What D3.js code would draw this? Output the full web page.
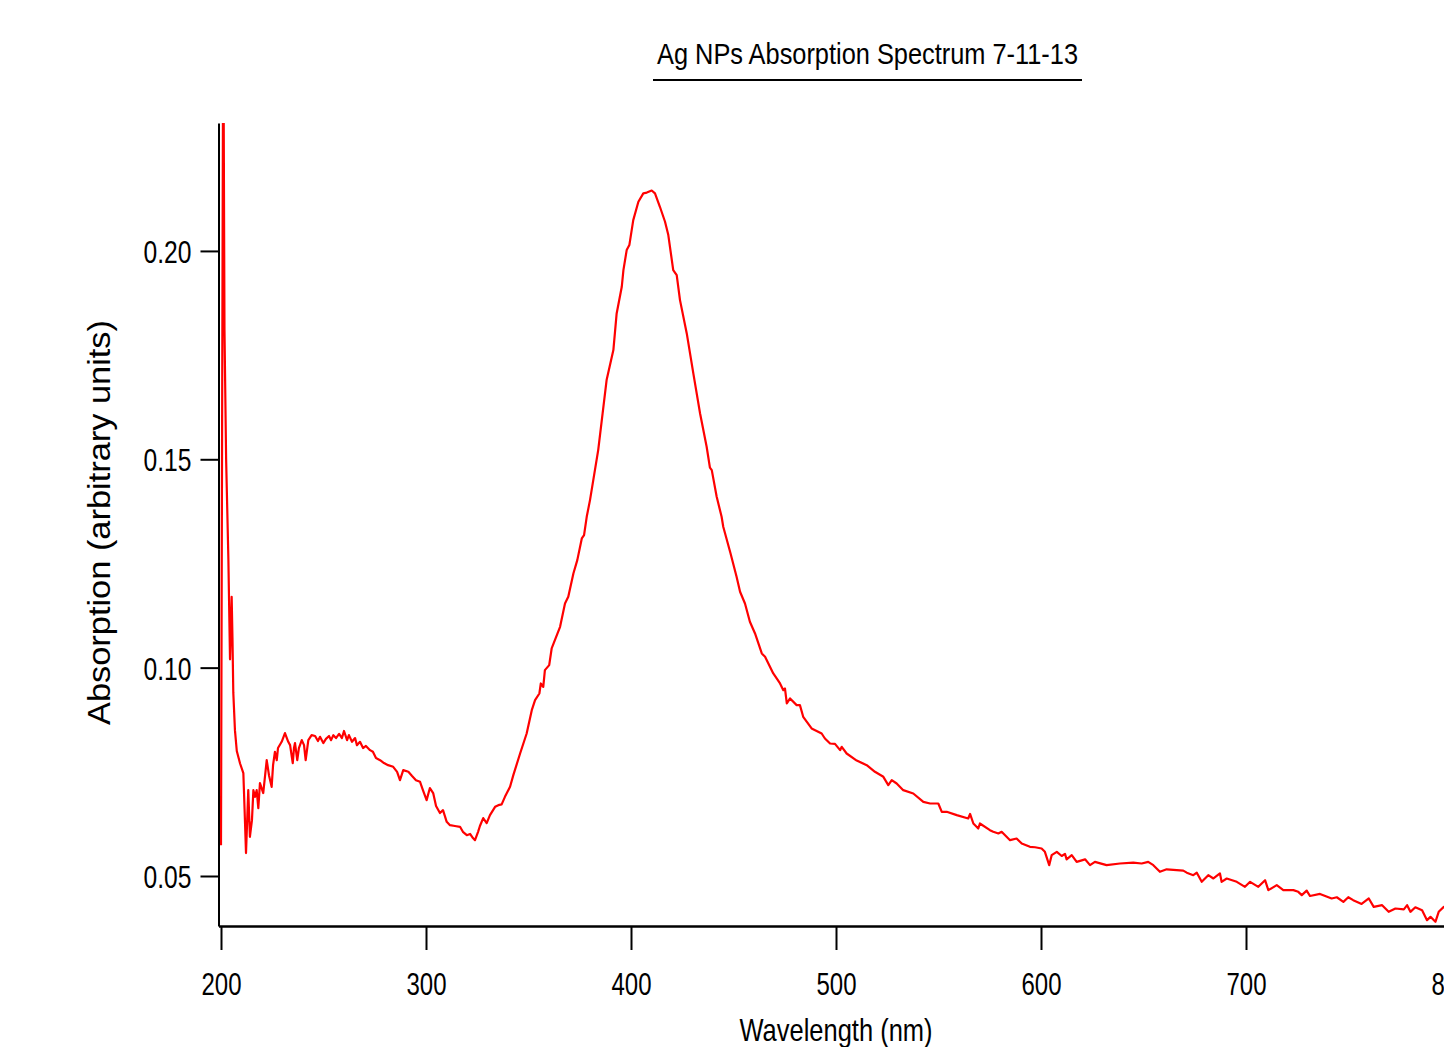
<!DOCTYPE html>
<html>
<head>
<meta charset="utf-8">
<script src="https://cdn.jsdelivr.net/npm/d3@7"></script>
<style>
  html, body { margin: 0; padding: 0; background: #fff; }
  svg { display: block; }
  text { font-family: "Liberation Sans", Arial, sans-serif; fill: #000; }
</style>
</head>
<body>
<div class="spectrum"></div>
<script>
// wavelength (nm) and absorption
const wavelength = [
  200.0, 201.1, 201.7, 202.5, 203.6, 204.4, 205.2, 205.6, 206.0, 206.8, 207.7, 209.3, 210.9, 211.5, 212.2,
  213.3, 214.1, 215.1, 215.8, 216.6, 217.4, 218.2, 219.0, 220.6, 222.3, 223.4, 224.7, 225.4, 226.3, 227.2,
  227.8, 229.6, 231.2, 232.8, 233.7, 235.0, 235.6, 236.1, 237.2, 238.0, 239.4, 240.5, 241.3, 242.6, 244.2,
  245.9, 247.3, 248.3, 249.9, 251.2, 252.7, 253.7, 254.8, 256.1, 257.6, 259.0, 260.0, 261.5, 262.4, 263.9,
  265.4, 266.3, 267.8, 269.3, 270.7, 272.7, 274.1, 275.6, 277.6, 279.5, 281.5, 284.0, 285.9, 287.3, 288.9,
  291.4, 293.2, 295.1, 297.1, 298.5, 300.3, 301.9, 303.5, 304.9, 306.8, 308.3, 310.1, 311.7, 314.1, 316.6,
  318.0, 319.9, 321.5, 322.9, 323.9, 325.4, 326.3, 327.9, 329.6, 331.2, 333.7, 335.3, 336.9, 338.5, 341.0,
  342.6, 345.9, 349.1, 351.6, 353.2, 355.3, 356.0, 357.2, 358.0, 360.1, 361.3, 365.4, 367.8, 369.4, 371.9,
  373.8, 376.0, 377.1, 378.4, 380.0, 384.0, 388.1, 391.4, 393.0, 395.5, 396.3, 397.9, 399.2, 401.1, 403.6,
  406.0, 407.7, 410.1, 411.7, 414.1, 416.6, 418.2, 420.6, 422.3, 423.9, 427.2, 430.4, 433.7, 436.9, 438.5,
  439.4, 441.8, 444.2, 445.0, 448.5, 451.5, 453.2, 455.6, 458.0, 460.5, 463.8, 465.4, 469.4, 472.7, 474.3,
  475.1, 476.0, 477.6, 480.8, 482.4, 484.0, 488.1, 489.8, 493.0, 494.6, 497.1, 499.5, 502.0, 502.8, 505.2,
  510.1, 515.0, 519.0, 523.1, 525.5, 527.2, 529.6, 532.8, 537.7, 542.6, 545.9, 549.9, 551.6, 554.0, 558.9,
  564.5, 565.4, 567.0, 569.4, 570.2, 575.1, 576.7, 579.2, 580.8, 584.9, 588.1, 590.6, 594.6, 597.1, 600.3,
  601.9, 604.0, 605.2, 607.7, 610.1, 611.7, 612.5, 615.0, 617.4, 621.5, 623.9, 626.3, 632.0, 638.5, 645.0,
  649.1, 652.3, 654.8, 658.0, 661.3, 666.2, 669.4, 671.1, 674.3, 676.0, 678.4, 681.6, 684.1, 687.3, 688.1,
  690.6, 695.5, 699.5, 702.0, 706.0, 709.3, 710.9, 715.0, 718.2, 723.1, 725.5, 727.2, 729.6, 731.2, 736.1,
  741.8, 744.3, 747.5, 749.9, 752.3, 756.4, 759.9, 762.3, 766.4, 769.6, 772.9, 777.0, 778.6, 780.2, 782.6,
  785.9, 788.3, 790.0, 792.4, 794.0, 796.5, 799.0
];
const absorption = [
  0.0574, 0.262, 0.181, 0.150, 0.126, 0.102, 0.117, 0.107, 0.094, 0.085, 0.080, 0.077, 0.0747, 0.066, 0.0555,
  0.0706, 0.0594, 0.0634, 0.0706, 0.0690, 0.0706, 0.0663, 0.0723, 0.0699, 0.0778, 0.0742, 0.0714, 0.0766, 0.0798, 0.0778,
  0.0807, 0.0822, 0.0843, 0.0822, 0.0814, 0.0771, 0.0807, 0.0819, 0.0778, 0.0807, 0.0826, 0.0814, 0.0778, 0.0826, 0.0838,
  0.0836, 0.0824, 0.0834, 0.0819, 0.0829, 0.0836, 0.0826, 0.0838, 0.0831, 0.0841, 0.0831, 0.0848, 0.0826, 0.0838, 0.0822,
  0.0831, 0.0814, 0.0822, 0.0807, 0.0812, 0.0802, 0.0798, 0.0783, 0.0778, 0.0771, 0.0766, 0.0762, 0.0750, 0.0730, 0.0754,
  0.0750, 0.0740, 0.0730, 0.0726, 0.0706, 0.0682, 0.0711, 0.0699, 0.0668, 0.0651, 0.0658, 0.0630, 0.0622, 0.0620, 0.0618,
  0.0606, 0.0598, 0.0601, 0.0591, 0.0586, 0.0606, 0.0620, 0.0639, 0.0627, 0.0646, 0.0666, 0.0670, 0.0672, 0.0690, 0.0714,
  0.0742, 0.0794, 0.0842, 0.0898, 0.0922, 0.0938, 0.0962, 0.0954, 0.0994, 0.1006, 0.1046, 0.1098, 0.1154, 0.1170, 0.1226,
  0.1258, 0.1310, 0.1318, 0.1362, 0.1402, 0.1522, 0.1690, 0.1762, 0.1850, 0.1914, 0.1954, 0.2002, 0.2014, 0.2074, 0.2118,
  0.2138, 0.2140, 0.2145, 0.2138, 0.2106, 0.2070, 0.2038, 0.1954, 0.1942, 0.1882, 0.1802, 0.1706, 0.1610, 0.1530, 0.1480,
  0.1474, 0.1410, 0.1362, 0.1338, 0.1275, 0.1218, 0.1182, 0.1154, 0.1110, 0.1082, 0.1034, 0.1026, 0.0986, 0.0962, 0.0946,
  0.0950, 0.0914, 0.0926, 0.0910, 0.0910, 0.0882, 0.0854, 0.0850, 0.0842, 0.0830, 0.0818, 0.0817, 0.0802, 0.0810, 0.0794,
  0.0777, 0.0766, 0.0750, 0.0738, 0.0718, 0.0730, 0.0722, 0.0706, 0.0698, 0.0678, 0.0674, 0.0674, 0.0654, 0.0654, 0.0646,
  0.0638, 0.0649, 0.0626, 0.0614, 0.0626, 0.0610, 0.0606, 0.0602, 0.0606, 0.0586, 0.0590, 0.0578, 0.0570, 0.0569, 0.0566,
  0.0558, 0.0526, 0.0550, 0.0558, 0.0548, 0.0553, 0.0540, 0.0550, 0.0534, 0.0540, 0.0526, 0.0534, 0.0526, 0.0530, 0.0532,
  0.0530, 0.0534, 0.0526, 0.0510, 0.0516, 0.0514, 0.0513, 0.0508, 0.0502, 0.0508, 0.0486, 0.0502, 0.0494, 0.0506, 0.0486,
  0.0494, 0.0486, 0.0474, 0.0486, 0.0474, 0.0490, 0.0466, 0.0478, 0.0466, 0.0466, 0.0462, 0.0454, 0.0465, 0.0452, 0.0457,
  0.0446, 0.0449, 0.0438, 0.0449, 0.0442, 0.0433, 0.0446, 0.0426, 0.0430, 0.0414, 0.0422, 0.0420, 0.0430, 0.0414, 0.0425,
  0.0418, 0.0394, 0.0402, 0.0390, 0.0414, 0.0426, 0.0420
];
const xTicks = [200, 300, 400, 500, 600, 700, 800];
const yTicks = [0.05, 0.10, 0.15, 0.20];

const title = "Ag NPs Absorption Spectrum 7-11-13";
const xTitle = "Wavelength (nm)";
const yTitle = "Absorption (arbitrary units)";

const W = 1444, H = 1047;
const plot = { left: 218.5, top: 123, bottom: 926 };

const svg = d3.select(".spectrum").append("svg")
    .attr("width", W)
    .attr("height", H);

// scales (x runs past the right edge, like the original export)
const x = d3.scaleLinear().domain([198.78, 810]).range([plot.left, 1471.5]);
const y = d3.scaleLinear().domain([0.038, 0.2307]).range([plot.bottom, plot.top]);

// squeeze text horizontally to mimic the narrow face
function squeeze(sel, k) {
  sel.each(function() {
    const len = this.getComputedTextLength();
    d3.select(this).attr("textLength", len * k).attr("lengthAdjust", "spacingAndGlyphs");
  });
}

svg.append("clipPath").attr("id", "plotclip")
  .append("rect")
    .attr("x", plot.left)
    .attr("y", plot.top)
    .attr("width", W - plot.left)
    .attr("height", plot.bottom - plot.top);

const data = wavelength.map((w, i) => ({ w: w, a: absorption[i] }));

const line = d3.line()
    .x(d => x(d.w))
    .y(d => y(d.a));

svg.append("path")
    .datum(data)
    .attr("clip-path", "url(#plotclip)")
    .attr("fill", "none")
    .attr("stroke", "#ff0000")
    .attr("stroke-width", 2.2)
    .attr("stroke-linejoin", "round")
    .attr("d", line);

// X axis
const xAxis = svg.append("g")
    .attr("transform", "translate(0," + plot.bottom + ")")
    .call(d3.axisBottom(x).tickValues(xTicks).tickSize(24).tickPadding(22).tickSizeOuter(0)
      .tickFormat(d3.format("d")));
xAxis.select(".domain").attr("stroke", "#000").attr("stroke-width", 2.5);
xAxis.selectAll(".tick line").attr("stroke", "#000").attr("stroke-width", 2);
xAxis.selectAll(".tick text")
    .attr("font-family", "Liberation Sans, Arial, sans-serif")
    .attr("font-size", 32)
    .attr("dy", "0.71em")
    .call(squeeze, 0.75);

// Y axis
const yAxis = svg.append("g")
    .attr("transform", "translate(" + plot.left + ",0)")
    .call(d3.axisLeft(y).tickValues(yTicks).tickSize(18).tickPadding(9).tickSizeOuter(0)
      .tickFormat(d3.format(".2f")));
yAxis.select(".domain").attr("stroke", "#000").attr("stroke-width", 2);
yAxis.selectAll(".tick line").attr("stroke", "#000").attr("stroke-width", 2);
yAxis.selectAll(".tick text")
    .attr("font-family", "Liberation Sans, Arial, sans-serif")
    .attr("font-size", 32)
    .attr("dy", "0.36em")
    .call(squeeze, 0.77);

// axis titles
svg.append("text")
    .attr("x", 836)
    .attr("y", 1041)
    .attr("text-anchor", "middle")
    .attr("font-size", 32)
    .attr("textLength", 193)
    .attr("lengthAdjust", "spacingAndGlyphs")
    .text(xTitle);

svg.append("text")
    .attr("transform", "translate(110,522.5) rotate(-90)")
    .attr("text-anchor", "middle")
    .attr("font-size", 31)
    .attr("textLength", 405)
    .attr("lengthAdjust", "spacingAndGlyphs")
    .text(yTitle);

// chart title with underline
svg.append("text")
    .attr("x", 867.5)
    .attr("y", 64)
    .attr("text-anchor", "middle")
    .attr("font-size", 30)
    .attr("textLength", 421)
    .attr("lengthAdjust", "spacingAndGlyphs")
    .text(title);

svg.append("line")
    .attr("x1", 653).attr("x2", 1082)
    .attr("y1", 80).attr("y2", 80)
    .attr("stroke", "#000")
    .attr("stroke-width", 2);
</script>
</body>
</html>
